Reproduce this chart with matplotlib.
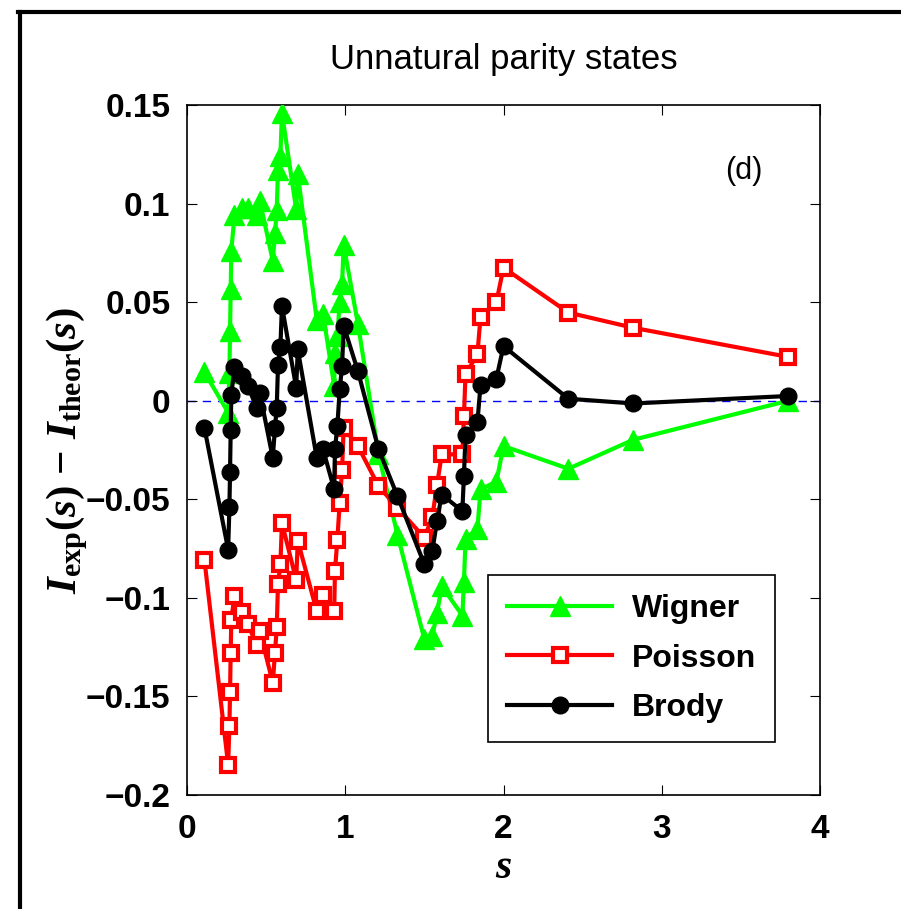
import matplotlib
matplotlib.use("Agg")
import matplotlib.pyplot as plt
from matplotlib.lines import Line2D
import numpy as np

# ---- data ----
s_vals = [0.11, 0.26, 0.268, 0.272, 0.276, 0.28, 0.30, 0.345, 0.385, 0.44,
          0.46, 0.542, 0.556, 0.567, 0.575, 0.59, 0.60, 0.69, 0.70, 0.82,
          0.86, 0.93, 0.935, 0.95, 0.965, 0.98, 0.99, 1.08, 1.21, 1.33,
          1.50, 1.55, 1.58, 1.61, 1.74, 1.75, 1.76, 1.835, 1.855, 1.955,
          2.0, 2.41, 2.82, 3.8]
wigner = [0.0145, -0.006, 0.014, 0.0355, 0.0565, 0.076, 0.094, 0.098, 0.098, 0.094,
          0.1015, 0.071, 0.085, 0.0965, 0.117, 0.124, 0.146, 0.097, 0.115, 0.041,
          0.044, 0.0075, 0.024, 0.033, 0.050, 0.059, 0.079, 0.039, -0.027, -0.068,
          -0.121, -0.1195, -0.1076, -0.094, -0.109, -0.092, -0.070, -0.065, -0.045, -0.041,
          -0.023, -0.0345, -0.0198, 0.0]
poisson = [-0.0806, -0.1846, -0.165, -0.148, -0.128, -0.111, -0.099, -0.107, -0.1135, -0.1237,
           -0.117, -0.143, -0.128, -0.115, -0.093, -0.083, -0.062, -0.091, -0.071, -0.1068,
           -0.0983, -0.1068, -0.0865, -0.0704, -0.0518, -0.0349, -0.0137, -0.023, -0.0433, -0.0543,
           -0.0695, -0.059, -0.0425, -0.0272, -0.0272, -0.0078, 0.0134, 0.0235, 0.0426, 0.050,
           0.0675, 0.0447, 0.037, 0.0222]
brody = [-0.0137, -0.0755, -0.054, -0.036, -0.015, 0.003, 0.017, 0.0125, 0.0075, -0.0036,
         0.004, -0.029, -0.0137, -0.0036, 0.018, 0.027, 0.048, 0.0066, 0.026, -0.029,
         -0.0247, -0.045, -0.0247, -0.0129, 0.0057, 0.0176, 0.038, 0.015, -0.0245, -0.0484,
         -0.083, -0.0763, -0.061, -0.0476, -0.056, -0.038, -0.0176, -0.011, 0.008, 0.0112,
         0.0277, 0.001, -0.0014, 0.0024]
series_names = ["Wigner", "Poisson", "Brody"]
xticks = [0, 1, 2, 3, 4]
yticks = [-0.2, -0.15, -0.1, -0.05, 0, 0.05, 0.1, 0.15]
yticklabels = ["\u22120.2", "\u22120.15", "\u22120.1", "\u22120.05", "0", "0.05", "0.1", "0.15"]

plt.rcParams['mathtext.fontset'] = 'custom'
plt.rcParams['mathtext.rm'] = 'Liberation Serif:bold'
plt.rcParams['mathtext.bf'] = 'Liberation Serif:bold'
plt.rcParams['mathtext.it'] = 'Liberation Serif:italic:bold'

sans = ['Liberation Sans', 'DejaVu Sans']

fig = plt.figure(figsize=(9.01, 9.09), dpi=100)
ax = fig.add_axes([187/901, 1-795/909, (820-187)/901, (795-105)/909])

ax.axhline(0, color='blue', lw=1.0, ls=(0, (6, 5)), zorder=1)

ax.plot(s_vals, wigner, color='#00ff00', lw=3, marker='^', markersize=15,
        markerfacecolor='#00ff00', markeredgecolor='#00ff00', label=series_names[0], zorder=3)
ax.plot(s_vals, poisson, color='red', lw=3, marker='s', markersize=9.5,
        markerfacecolor='white', markeredgecolor='red', markeredgewidth=3,
        label=series_names[1], zorder=4)
ax.plot(s_vals, brody, color='black', lw=3, marker='o', markersize=12,
        markerfacecolor='black', markeredgecolor='black', label=series_names[2], zorder=5)

ax.set_xlim(0, 4)
ax.set_ylim(-0.2, 0.15)
ax.set_xticks(xticks)
ax.set_xticklabels([str(t) for t in xticks], fontfamily=sans, fontweight='bold', fontsize=24)
ax.set_yticks(yticks)
ax.set_yticklabels(yticklabels, fontfamily=sans, fontweight='bold', fontsize=24)
ax.tick_params(direction='in', length=7, width=0.8, top=True, right=True)
ax.tick_params(axis='x', pad=14)
ax.tick_params(axis='y', pad=12)
for sp in ax.spines.values():
    sp.set_linewidth(1.2)

ax.set_title('Unnatural parity states', fontfamily=sans, fontsize=25, pad=26)
ax.set_xlabel(r'$s$', fontsize=30, labelpad=0)
ax.set_ylabel(r'$I_{\mathrm{exp}}(s)\ \mathrm{-}\ I_{\mathrm{theor}}(s)$', fontsize=31, labelpad=-3)

ax.text(0.88, 0.905, '(d)', transform=ax.transAxes, fontfamily=sans, fontsize=22,
        ha='center', va='center')

leg = ax.legend(loc='lower right', bbox_to_anchor=(0.929, 0.077), borderaxespad=0,
                prop={'family': sans, 'weight': 'bold', 'size': 23},
                handlelength=3.3, handletextpad=0.6, borderpad=0.6, labelspacing=0.6,
                fancybox=False, framealpha=1, edgecolor='black')
leg.get_frame().set_linewidth(1.2)

# outer frame lines
fig.add_artist(Line2D([18/901, 1.0], [1-11.5/909, 1-11.5/909], color='black', lw=3,
                      transform=fig.transFigure))
fig.add_artist(Line2D([20/901, 20/901], [0, 1-11.5/909], color='black', lw=3,
                      transform=fig.transFigure))

fig.savefig('out.png', dpi=100)
